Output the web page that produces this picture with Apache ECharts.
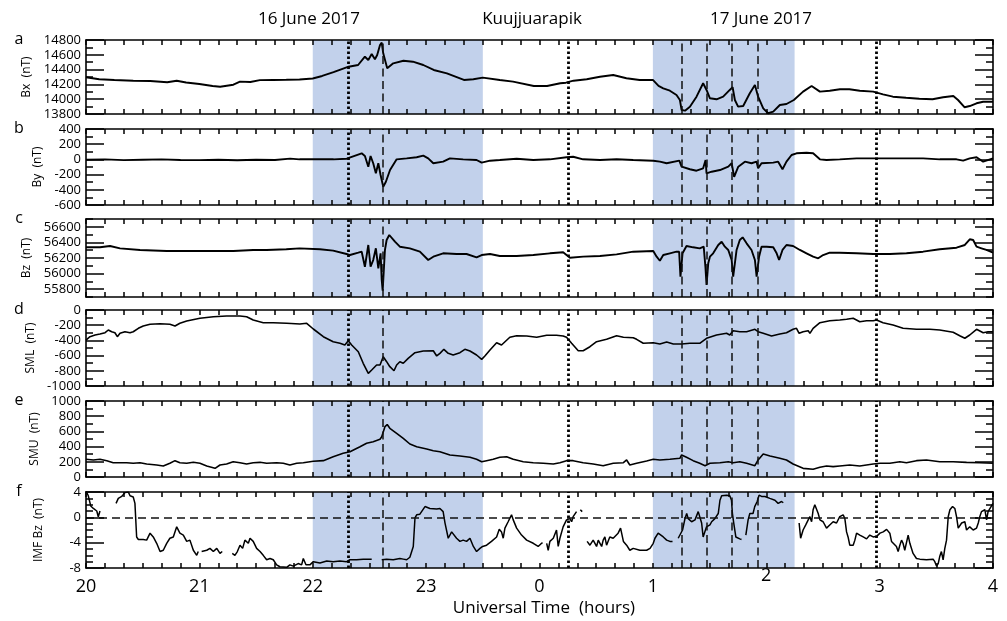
<!DOCTYPE html>
<html><head><meta charset="utf-8">
<script src="https://cdn.jsdelivr.net/npm/echarts@6/dist/echarts.min.js"></script>
<style>html,body{margin:0;padding:0;background:#fff}#c{width:1007px;height:621px}</style>
</head><body><div id="c"></div>
<script>
// time in minutes after 20:00 UT (16 June 2017)
const bx = [[0,14296],[7,14269],[15,14260],[25,14250],[34,14246],[43,14229],[48,14250],[53,14225],[60,14206],[67,14179],[71,14169],[78,14196],[81.5,14237],[87,14232],[92,14258],[99,14260],[106,14262],[113,14266],[120,14280],[125,14314],[131,14365],[139,14439],[144,14462],[147.6,14574],[149.4,14530],[151.2,14611],[152.9,14539],[154.1,14597],[155.6,14732],[156.5,14764],[157.3,14620],[159.4,14418],[162.6,14485],[168,14520],[173,14507],[178.5,14462],[184,14395],[191,14350],[200,14260],[205,14269],[210,14291],[219,14260],[226,14237],[237,14179],[244,14179],[251,14215],[254,14223],[258,14250],[265,14269],[272,14304],[279,14327],[286,14283],[293,14260],[300,14260],[303,14179],[305.5,14147],[309,14115],[312.5,14057],[314.3,13989],[315.2,13854],[317,13845],[319.6,13899],[323.1,14034],[326.6,14215],[328.4,14125],[330.2,14012],[333.7,13999],[337.2,14034],[340.7,14125],[342.2,14161],[343.4,13989],[345.1,13899],[347.8,13908],[351.3,14080],[354,14192],[355.7,14034],[358.4,13877],[361,13810],[363.7,13831],[367.2,13922],[370.7,13935],[374.6,13989],[379.5,14102],[384,14179],[388.4,14102],[393.6,14115],[399,14134],[404,14134],[409.5,14115],[416.6,14102],[421.8,14066],[427,14034],[434,14020],[441,14007],[448,13999],[453.6,14026],[459,14043],[461.5,13989],[465,13891],[467.7,13908],[471.3,13945],[474.8,13966],[480,13966]];

const by = [[0,-5],[10,0],[20,-10],[30,-5],[40,0],[50,-8],[60,-10],[70,-5],[80,-12],[90,-5],[100,-8],[108,10],[113,1],[131,1],[138,9],[145.9,80],[147.6,45],[149.4,-96],[150.6,45],[152,-51],[153.4,-183],[154.7,-51],[155.9,-205],[157.3,-359],[158.7,-294],[160.9,-140],[164.4,1],[169.7,14],[175,28],[178.5,49],[181.1,14],[183.8,-51],[189,-30],[192.6,14],[199.6,1],[206.7,-8],[209.4,-43],[213.8,-17],[219,-8],[227.9,9],[236.7,-8],[245.5,1],[254.3,28],[257.8,35],[263.1,1],[272,-8],[280.8,1],[289.6,-8],[300.2,-17],[303.7,-30],[307.3,-51],[314,-17],[314.6,1],[315.2,-96],[319.6,-130],[323.1,-149],[326.6,-117],[327.9,-8],[328.4,-183],[331.1,-162],[335.5,-140],[339.9,-96],[341.7,-51],[343,-230],[345.2,-96],[348.7,-30],[352.2,-51],[354.9,-30],[355.7,-117],[357.5,-51],[363.7,-43],[366.3,-30],[368.6,-130],[370.7,-30],[373.4,58],[376,80],[381.3,88],[384.8,80],[388.4,1],[391.9,-8],[398.9,1],[407.8,14],[416.6,14],[425.4,14],[434.2,14],[443,14],[451.8,1],[460.7,1],[464.2,-17],[467.7,14],[471.3,28],[474.8,-30],[480,14]];

const bz = [[0,56337],[7.4,56337],[12.7,56354],[18,56324],[28.6,56303],[42.7,56290],[60,56290],[78,56290],[88.5,56303],[95.6,56303],[106,56312],[113,56324],[123.8,56312],[130.8,56294],[137.9,56251],[139.7,56238],[144.1,56268],[145.9,56281],[147.6,56088],[149.4,56367],[150.6,56088],[152,56174],[153.4,56324],[154.7,56068],[155.9,56260],[156.5,55918],[157,55780],[158.2,56303],[159.1,56431],[160.5,56495],[163.5,56409],[166.1,56345],[171.4,56324],[176.7,56281],[181.1,56174],[183.8,56217],[189,56260],[196.1,56251],[201.4,56251],[206.7,56209],[209.4,56238],[213.8,56251],[219,56226],[227.9,56226],[236.7,56238],[245.5,56260],[252.5,56273],[254.3,56238],[256.1,56204],[263.1,56217],[272,56226],[280.8,56247],[289.6,56281],[300.2,56290],[302,56217],[303.7,56165],[305.5,56238],[309,56260],[312.5,56281],[313.9,56281],[314.6,55960],[315.7,56260],[317.8,56354],[321.3,56337],[324.8,56324],[326.9,56345],[327.8,56088],[328.4,55854],[329.3,56132],[330.2,56217],[331.9,56260],[334.6,56367],[336.4,56409],[338.1,56345],[339.9,56303],[341.7,56174],[342.5,55960],[344.3,56303],[346,56431],[347.5,56465],[349.6,56388],[352.2,56303],[354,56174],[354.9,55960],[356.2,56217],[357.5,56345],[360.2,56345],[363.7,56337],[365.5,56260],[366.8,56174],[368.6,56303],[370.7,56367],[374.2,56354],[377.8,56303],[381.3,56260],[384.8,56217],[387.5,56196],[390.1,56238],[393.6,56268],[398.9,56268],[407.8,56260],[416.6,56251],[425.4,56251],[434.2,56260],[443,56281],[451.8,56312],[460.7,56332],[465.1,56367],[467.7,56440],[469.5,56431],[471.3,56345],[473.9,56324],[476.5,56303],[480,56268]];

const sml = [[0,-395],[2.1,-351],[4.8,-329],[7.4,-316],[10.1,-299],[11.8,-263],[13.6,-286],[15.3,-299],[16.6,-351],[18,-307],[20.6,-286],[23.3,-299],[25,-286],[27.7,-241],[30.3,-211],[33.9,-188],[39.2,-180],[44.4,-188],[47.1,-211],[49.7,-175],[53.3,-145],[60.3,-109],[67.4,-88],[74.4,-79],[81.5,-79],[85,-88],[88.5,-132],[93.8,-167],[99.1,-167],[106.2,-175],[113.2,-184],[116.8,-175],[120.3,-250],[125.6,-351],[130.8,-417],[134.4,-438],[137,-461],[138.8,-404],[140.6,-461],[144.1,-549],[146.7,-701],[149.4,-833],[151.2,-790],[153.8,-724],[155.6,-724],[157.3,-615],[159.1,-680],[160.8,-746],[163,-799],[164.4,-724],[166.1,-680],[167.9,-701],[170.5,-636],[174.1,-562],[178.5,-540],[183.8,-536],[185.6,-605],[187.3,-570],[189.4,-517],[191.7,-570],[194.3,-592],[197.9,-562],[200.5,-517],[203.2,-540],[206.7,-592],[209.4,-649],[211.1,-605],[213.8,-526],[217.3,-430],[219.9,-461],[224.3,-359],[227.9,-338],[233.2,-342],[238.5,-359],[243.8,-333],[249,-333],[252.5,-342],[254.3,-359],[257,-438],[260.5,-536],[263.1,-536],[266.7,-483],[270.2,-417],[275.5,-386],[280.8,-338],[284.4,-359],[289.6,-365],[291.4,-386],[294.9,-438],[300.2,-430],[303.7,-447],[307.3,-421],[310.8,-447],[315.2,-447],[319.6,-438],[324.8,-438],[328.4,-372],[333.7,-329],[339,-307],[340.7,-329],[342.5,-272],[346,-286],[349.6,-286],[354,-254],[355.7,-286],[358.4,-307],[362.8,-342],[367.2,-316],[370.7,-299],[374.2,-254],[376,-241],[377.4,-307],[379.5,-286],[382.2,-272],[383.1,-307],[384.8,-241],[388.4,-167],[393.6,-141],[398.9,-132],[402.5,-122],[406,-109],[409.5,-154],[413.1,-141],[416.6,-141],[418.4,-132],[421.8,-167],[427.1,-197],[432.4,-241],[439.5,-254],[446.6,-254],[451.8,-263],[458.9,-293],[462.4,-338],[465.1,-372],[467.7,-329],[471.3,-254],[474.8,-299],[477.4,-286],[480,-286]];

const smu = [[0,233],[3.9,224],[7.4,233],[11,215],[14.4,188],[18,188],[21.5,188],[25,180],[28.6,188],[32.1,171],[37.4,158],[40.9,145],[44.4,180],[47.1,215],[49.7,188],[53.3,180],[56.8,193],[60.3,180],[63.9,145],[68.3,114],[70.9,158],[74.4,171],[77.9,201],[81.5,188],[85,171],[88.5,188],[92.1,193],[95.6,180],[100.9,188],[104.4,180],[107.9,158],[111.5,180],[115,188],[120.3,207],[125.6,215],[130.8,267],[136.1,312],[139.7,333],[145,399],[148.5,443],[152,465],[155.6,496],[156.5,530],[158.2,662],[159.4,690],[160.8,641],[164.4,575],[167.9,509],[171.4,434],[175,399],[180.3,368],[183.8,346],[187.3,333],[192.6,290],[197.9,276],[203.2,259],[206.7,233],[209.4,201],[212,215],[215.5,233],[219,259],[222.6,267],[226.1,233],[231.4,201],[236.7,188],[242,180],[247.3,171],[250.8,188],[254.3,215],[257.8,215],[263.1,188],[268.4,171],[273.7,149],[279,180],[284.4,188],[286.1,224],[287.8,158],[291.4,180],[296.7,211],[300.2,233],[303.7,224],[309,233],[314.3,246],[315.2,290],[317.8,259],[321.3,215],[324.8,180],[327.6,149],[330.2,180],[335.5,188],[339.9,201],[342.5,188],[346,201],[349.6,180],[354,149],[355.7,224],[358.4,303],[362,276],[367.2,246],[370.7,224],[374.2,171],[379.5,114],[384.8,101],[388.4,128],[391.9,145],[395.4,136],[398.9,145],[404.2,158],[409.5,145],[416.6,171],[420.2,180],[425.4,180],[430.7,201],[434.2,188],[439.5,215],[444.8,224],[451.8,201],[458.9,201],[466,193],[473,188],[480,180]];

// null = data gap
const imfBz = [[0,4.2],[1.2,3.4],[2.5,1.8],[3.9,1.4],[5.7,1.0],[6.5,0.1],[7.4,1.0],[10,null],
[15.9,2.2],[17.1,3.0],[18.9,3.3],[20.6,3.9],[22.4,4.0],[23.3,3.4],[25,3.2],[25.9,2.2],[26.8,-3.1],[27.7,-3.5],[30.3,-3.5],[32.1,-3.6],[33.9,-2.5],[35.6,-3.1],[37.4,-4.1],[39.2,-5.4],[40.9,-5.2],[42.7,-4.1],[44.4,-3.3],[46.2,-3.1],[48,-1.5],[49.7,-2.5],[51.5,-2.8],[53.3,-3.8],[55,-3.6],[56.8,-5.2],[58.6,-6.0],[59.4,-5.4],[60.3,null],
[61.2,-5.4],[63.9,-5.2],[65.6,-4.9],[67.4,-5.4],[69.2,-4.9],[70.9,-5.7],[72.1,-5.4],[75,null],
[77.4,-5.7],[78.8,-6.0],[80.1,-5.4],[81.5,-4.4],[82.9,-4.9],[84.1,-3.6],[85.9,-4.1],[86.8,-3.3],[88.5,-3.8],[90.3,-4.9],[92.1,-5.4],[93.8,-6.0],[95.6,-6.7],[97.4,-6.5],[99.1,-6.7],[100.9,-7.5],[102.6,-7.8],[106.2,-7.9],[107.9,-7.5],[109.7,-7.7],[112.3,-7.3],[114.1,-7.5],[115,-6.5],[116.4,-7.5],[118.5,-7.5],[120.3,-7.0],[123.8,-7.2],[127.4,-6.9],[130.8,-7.0],[134.4,-6.9],[137.9,-7.0],[139.7,-6.7],[143.2,-6.7],[146.7,-6.6],[151.2,-6.6],[153.5,null],
[156.5,-6.7],[159.1,-6.6],[162.6,-6.7],[166.1,-6.5],[167.9,-6.6],[169.7,-6.7],[171.4,-6.3],[173.2,-4.6],[174.1,-0.1],[175,0.4],[176.7,0.5],[177.6,0.9],[179.4,1.7],[182,1.4],[185.6,1.3],[187.3,1.4],[188.2,1.7],[189,0.9],[190,-0.9],[191.7,-3.3],[193.5,-2.3],[194.3,-2.0],[196.1,-3.3],[197.9,-3.8],[199.6,-3.6],[201.4,-3.8],[203.2,-3.3],[205,-4.6],[206.7,-5.4],[208.5,-4.9],[209.9,-4.6],[212,-4.4],[214.6,-3.8],[217.3,-3.1],[218.7,-1.9],[219.9,-2.3],[220.8,-3.3],[221.7,-1.7],[223.4,-0.7],[225.2,0.4],[226.1,-0.4],[227.9,-1.7],[230.5,-2.8],[233.2,-3.6],[236.7,-4.1],[239.3,-4.6],[241.1,-4.1],[241.6,-4.0],[242.7,null],
[243.8,-4.1],[244.6,-5.2],[245.5,-3.8],[247.3,-3.3],[249,-2.0],[249.9,-4.6],[250.8,-3.3],[252.5,-1.5],[254.3,-0.4],[256.1,-0.2],[257,-0.7],[257.8,0.1],[259.6,0.9],[260.5,null],[261.6,1.2],[262.6,0.9],[263.5,null],
[265.2,-3.8],[266.7,-4.4],[268.4,-3.6],[270.2,-4.6],[271.1,-3.6],[272,-4.1],[272.9,-4.6],[273.7,-3.6],[274.6,-3.1],[275.5,-4.4],[277.2,-3.1],[279,-3.3],[281.6,-2.5],[282.9,-1.7],[284.4,-3.8],[286.1,-4.4],[287.8,-5.2],[289.6,-4.9],[293.1,-5.2],[296.7,-5.2],[298.5,-4.9],[300.2,-4.1],[301.1,-3.3],[302.8,-2.5],[305.5,-3.1],[307.3,-3.6],[309,-3.8],[310.4,-3.8],[311.9,null],
[313.4,-3.3],[314.3,-3.1],[315.7,-2.0],[317,-0.2],[317.9,0.6],[318.7,-0.2],[320.5,-0.7],[322.3,-0.4],[324,0.9],[324.9,0.6],[325.8,-0.9],[326.6,-3.1],[327.5,-3.4],[328.4,-1.5],[330.2,-1.2],[331.1,-0.7],[331.9,-0.9],[332.8,-0.2],[333.7,0.1],[334.6,0.6],[335.5,2.7],[336.4,3.4],[339,3.5],[340.7,3.4],[341.6,2.7],[342.1,0.6],[342.8,-0.9],[343.9,-3.1],[346,-3.4],[346.9,-3.5],[348,null],
[349.2,-2.8],[350.4,-0.4],[351.3,0.6],[352.2,0.9],[353,0.6],[353.9,1.7],[355.2,2.5],[356.2,3.5],[357.5,3.3],[359.3,3.3],[361.9,3.0],[364.6,2.7],[366.3,2.2],[368.1,2.5],[369,2.3],[373,null],
[377.4,-0.9],[378.2,-3.3],[379.5,-2.0],[380.9,-1.2],[382.2,-0.4],[383.1,0.1],[384,-0.7],[384.8,1.2],[385.7,2.0],[386.6,1.7],[387.5,0.6],[388.4,-0.4],[390.1,-0.7],[391.9,-1.7],[393.6,-1.2],[395.4,-0.7],[397.2,-0.9],[398.9,0.1],[400.7,0.4],[401.6,-0.2],[402.5,-2.3],[403.3,-3.1],[404.2,-4.4],[406,-4.4],[406.9,-3.6],[407.8,-2.5],[409.5,-2.8],[411.3,-3.1],[413.1,-3.4],[414.8,-2.8],[416.6,-3.1],[418.4,-3.0],[420.2,-2.5],[421.9,-2.3],[423.7,-1.9],[425.4,-2.5],[426.3,-3.8],[427.2,-3.6],[428.9,-4.6],[429.8,-5.4],[430.7,-4.4],[431.6,-3.6],[432.4,-4.1],[433.3,-5.2],[435.1,-2.8],[436,-4.1],[437.7,-5.7],[439.5,-6.5],[441.3,-6.6],[444.8,-6.7],[448.3,-6.6],[449.2,-7.0],[450.1,-7.7],[451,-7.3],[451.8,-6.2],[452.7,-5.4],[453.6,-6.7],[454.5,-4.9],[455.4,-3.6],[456.3,0.1],[457.2,1.2],[458.6,1.7],[459.8,1.4],[460.7,0.1],[461.6,-1.7],[462.5,-1.5],[463.4,-0.9],[465.1,-0.7],[466,-2.0],[467.7,-1.5],[469.5,-2.0],[471.3,-1.7],[472.2,-0.9],[473,0.1],[473.9,0.9],[474.8,1.2],[475.7,1.2],[476.6,-0.4],[477.4,0.9],[478.3,1.2],[480,2.2]];

const hourLabels = ['20','21','22','23','0','1','2','3','4'];
const shadedSpans = [[120,210],[300,375]];   // 22:00-23:30, 01:00-02:15
const dottedAt = [139,255,418];
const dashedAt = [157,315.2,328.4,342,355.3];

const FONT = '"Open Sans", sans-serif';
const SHADE = '#c2d1eb';

const panels = [
  {letter:'a', name:'Bx  (nT)',     data:bx,    min:13800, max:14800, major:200, minor:100, top:40,  height:74, lw:1.9},
  {letter:'b', name:'By  (nT)',     data:by,    min:-600,  max:400,   major:200, minor:100, top:129, height:76, lw:1.9},
  {letter:'c', name:'Bz  (nT)',     data:bz,    min:55700, max:56700, major:200, minor:100, top:219, height:78, lw:1.9},
  {letter:'d', name:'SML  (nT)',    data:sml,   min:-1000, max:0,     major:200, minor:100, top:310, height:76, lw:1.6},
  {letter:'e', name:'SMU  (nT)',    data:smu,   min:0,     max:1000,  major:200, minor:100, top:401, height:76, lw:1.6},
  {letter:'f', name:'IMF Bz  (nT)', data:imfBz, min:-8,    max:4,     major:4,   minor:1,   top:492, height:76, lw:1.5}
];

const grids = [], xAxes = [], yAxes = [], series = [], graphics = [];
const mkLine = () => ({color:'#000', width:1.6});
const mkTick = () => ({color:'#000', width:1.5});

panels.forEach((p, i) => {
  grids.push({left:86, right:14, top:p.top, height:p.height});
  const majors = [];
  for (let v = Math.ceil(p.min / p.major) * p.major; v <= p.max + 1e-9; v += p.major) majors.push(v);
  const isLast = i === panels.length - 1;
  ['bottom','top'].forEach(pos => {
    xAxes.push({
      gridIndex:i, type:'value', min:0, max:480, interval:10, position:pos, z:10,
      axisLine:{show:true, onZero:false, lineStyle:mkLine()},
      axisTick:{show:true, inside:true, length:5, lineStyle:mkTick()},
      splitLine:{show:false},
      axisLabel:{show: isLast && pos === 'bottom', margin:10, color:'#000', fontSize:18, fontFamily:FONT,
        formatter: v => (v % 60 !== 0 || v === 360 ? '' : hourLabels[v / 60])}
    });
  });
  ['left','right'].forEach(pos => {
    yAxes.push({
      gridIndex:i, type:'value', min:p.min, max:p.max, interval:p.minor, position:pos, z:10,
      name: pos === 'left' ? p.name : '', nameLocation:'middle', nameGap:41, nameRotate:90,
      nameTextStyle:{color:'#000', fontSize:12, fontFamily:FONT},
      axisLine:{show:true, onZero:false, lineStyle:mkLine()},
      axisTick:{show:true, inside:true, length:7, lineStyle:mkTick()},
      splitLine:{show:false},
      axisLabel:{show: pos === 'left', margin:5, color:'#000', fontSize:13, fontFamily:FONT,
        formatter: v => (Math.abs(v / p.major - Math.round(v / p.major)) < 1e-6 ? String(v) : '')}
    });
    yAxes.push({
      gridIndex:i, type:'value', min:p.min, max:p.max, interval:p.minor, position:pos, z:10,
      axisLine:{show:true, onZero:false, lineStyle:{color:'rgba(0,0,0,0)', width:1}},
      axisTick:{show:true, inside:true, length:18, customValues:majors, lineStyle:mkTick()},
      axisLabel:{show:false}, splitLine:{show:false}
    });
  });
  const mlData = dottedAt.map(x => ({xAxis:x, lineStyle:{type:[2.5,2.5], width:2.8, color:'#000'}}))
    .concat(dashedAt.map(x => ({xAxis:x, lineStyle:{type:[8,4.5], width:1.5, color:'#111'}})));
  if (isLast) mlData.push({yAxis:0, lineStyle:{type:[8,5], width:1.5, color:'#111'}});
  series.push({
    type:'line', xAxisIndex:2 * i, yAxisIndex:4 * i,
    data: p.data.map(d => [d[0], d[1] === null ? '-' : d[1]]),
    showSymbol:false, symbol:'none', connectNulls:false, animation:false, z:2,
    lineStyle:{color:'#000', width:p.lw},
    markArea:{silent:true, itemStyle:{color:SHADE}, data: shadedSpans.map(s => [{xAxis:s[0]}, {xAxis:s[1]}])},
    markLine:{silent:true, symbol:['none','none'], label:{show:false}, animation:false, data: mlData}
  });
  graphics.push({type:'text', x:19, y:p.top - 1,
    style:{text:p.letter, font:'16px ' + FONT, fill:'#000', align:'center', verticalAlign:'middle', textAlign:'center', textVerticalAlign:'middle'}});
});

const headerTexts = [
  {text:'16 June 2017', x:309},
  {text:'Kuujjuarapik', x:532},
  {text:'17 June 2017', x:761}
];
headerTexts.forEach(h => graphics.push({type:'text', x:h.x, y:19,
  style:{text:h.text, font:'17px ' + FONT, fill:'#000', align:'center', verticalAlign:'middle', textAlign:'center', textVerticalAlign:'middle'}}));
graphics.push({type:'text', x:544, y:608,
  style:{text:'Universal Time  (hours)', font:'17px ' + FONT, fill:'#000', align:'center', verticalAlign:'middle', textAlign:'center', textVerticalAlign:'middle'}});
// hour label "2" sits raised in the original
graphics.push({type:'text', x:86 + 907 * 360 / 480, y:576,
  style:{text:hourLabels[6], font:'18px ' + FONT, fill:'#000', align:'center', verticalAlign:'middle', textAlign:'center', textVerticalAlign:'middle'}});

const chart = echarts.init(document.getElementById('c'), null, {renderer:'canvas'});
chart.setOption({
  backgroundColor:'#fff', animation:false,
  grid:grids, xAxis:xAxes, yAxis:yAxes, series:series, graphic:graphics
});
</script></body></html>
